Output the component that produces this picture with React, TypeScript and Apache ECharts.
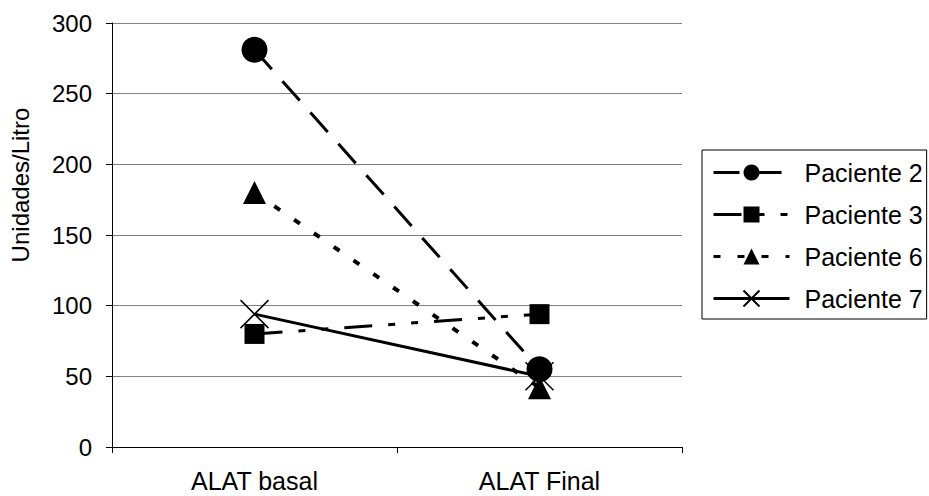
import React, { useEffect, useRef } from 'react';
import * as echarts from 'echarts';

const categories = ['ALAT basal', 'ALAT Final'];
const seriesNames = ['Paciente 2', 'Paciente 3', 'Paciente 6', 'Paciente 7'];
const paciente2 = [281, 55];
const paciente3 = [80, 94];
const paciente6 = [180, 42];
const paciente7 = [94, 50];
const yTickMin = 0;
const yTickMax = 300;
const yTickStep = 50;

const FONT = '"Liberation Sans", Arial, sans-serif';

export default function App() {
  const ref = useRef<HTMLDivElement>(null);
  useEffect(() => {
    if (!ref.current) return;
    const chart = echarts.init(ref.current, null, { renderer: 'svg' });
    const cross = 'path://M0,0L20,20M20,0L0,20';
    const option: any = {
      animation: false,
      backgroundColor: '#ffffff',
      textStyle: { fontFamily: FONT, color: '#000' },
      grid: { left: 112, right: 247, top: 23, bottom: 49, containLabel: false },
      xAxis: {
        type: 'category',
        data: categories,
        boundaryGap: true,
        axisLine: { lineStyle: { color: '#000', width: 1 } },
        axisTick: { show: true, length: 6, alignWithLabel: false, lineStyle: { color: '#000' } },
        axisLabel: { color: '#000', fontSize: 25, fontFamily: FONT, margin: 21 },
        splitLine: { show: false },
      },
      yAxis: {
        type: 'value',
        min: yTickMin,
        max: yTickMax,
        interval: yTickStep,
        name: 'Unidades/Litro',
        nameLocation: 'middle',
        nameRotate: 90,
        nameGap: 80,
        nameTextStyle: { color: '#000', fontSize: 24, fontFamily: FONT, padding: [0, 0, 0, 100] },
        axisLine: { show: true, lineStyle: { color: '#000', width: 1 } },
        axisTick: { show: true, length: 6, lineStyle: { color: '#000' } },
        axisLabel: { color: '#000', fontSize: 24, fontFamily: FONT, margin: 20 },
        splitLine: { show: true, lineStyle: { color: '#808080', width: 1 } },
      },
      legend: {
        orient: 'vertical',
        left: 702,
        top: 150,
        data: seriesNames,
        itemWidth: 76,
        itemHeight: 20,
        itemGap: 17,
        padding: [10, 4, 8, 10],
        borderColor: '#000',
        borderWidth: 1,
        borderRadius: 0,
        lineStyle: { width: 3 },
        textStyle: { color: '#000', fontSize: 25, fontFamily: FONT, padding: [0, 0, 0, 10] },
      },
      series: [
        {
          name: seriesNames[0],
          type: 'line',
          data: paciente2,
          symbol: 'circle',
          symbolSize: 26,
          lineStyle: { color: '#000', width: 3, type: [26, 16] },
          itemStyle: { color: '#000' },
          z: 2,
        },
        {
          name: seriesNames[1],
          type: 'line',
          data: paciente3,
          symbol: 'rect',
          symbolSize: 20,
          lineStyle: { color: '#000', width: 3, type: [28, 16, 7, 16, 7, 16] },
          itemStyle: { color: '#000' },
          z: 3,
        },
        {
          name: seriesNames[2],
          type: 'line',
          data: paciente6,
          symbol: 'triangle',
          symbolSize: 23,
          lineStyle: { color: '#000', width: 4, type: [7, 17] },
          itemStyle: { color: '#000' },
          z: 4,
        },
        {
          name: seriesNames[3],
          type: 'line',
          data: paciente7,
          symbol: cross,
          symbolSize: 28,
          lineStyle: { color: '#000', width: 3, type: 'solid' },
          itemStyle: { color: 'none', borderColor: '#000', borderWidth: 1.5 },
          z: 5,
        },
      ],
    };
    chart.setOption(option);
    return () => chart.dispose();
  }, []);
  return (
    <div
      ref={ref}
      style={{ position: 'fixed', left: 0, top: 0, width: 929, height: 496, background: '#fff' }}
    />
  );
}
